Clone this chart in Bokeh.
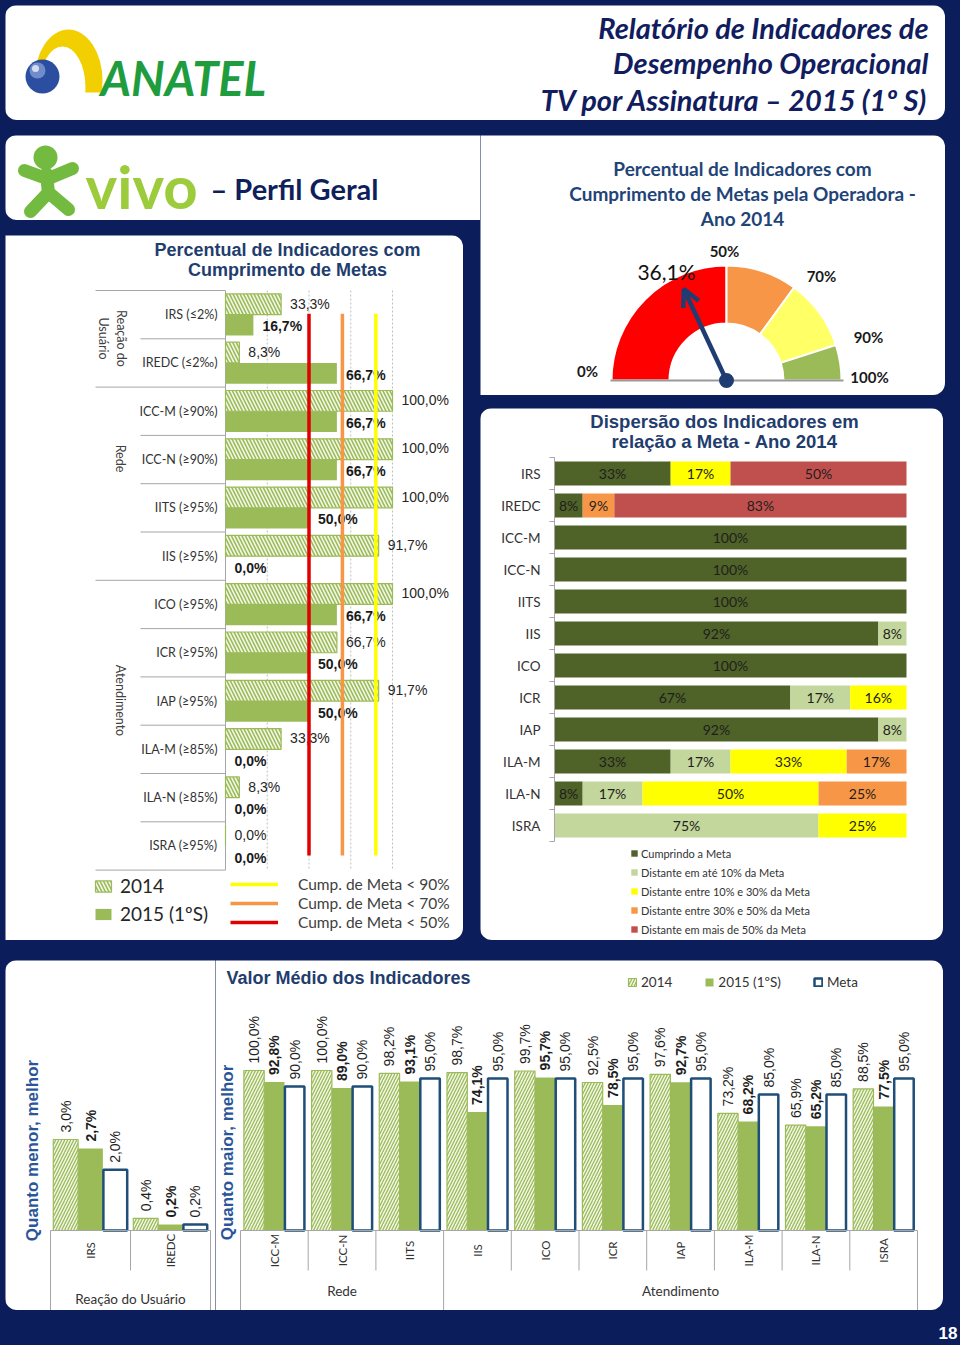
import math
import numpy as np
from bokeh.plotting import figure
from bokeh.models import (Range1d, Label, Legend, LegendItem, ColumnDataSource,
                          Arrow, OpenHead, Spacer, Column, Row)
from bokeh.core.properties import value
from bokeh.transform import dodge
from bokeh.embed import file_html
from bokeh.resources import INLINE

# ---------------------------------------------------------------- data
LC_CATS = ["IRS (≤2%)", "IREDC (≤2‰)", "ICC-M (≥90%)", "ICC-N (≥90%)", "IITS (≥95%)",
           "IIS (≥95%)", "ICO (≥95%)", "ICR (≥95%)", "IAP (≥95%)", "ILA-M (≥85%)",
           "ILA-N (≥85%)", "ISRA (≥95%)"]
LC_2014 = [33.3, 8.3, 100.0, 100.0, 100.0, 91.7, 100.0, 66.7, 91.7, 33.3, 8.3, 0.0]
LC_2015 = [16.7, 66.7, 66.7, 66.7, 50.0, 0.0, 66.7, 50.0, 50.0, 0.0, 0.0, 0.0]
LC_GROUP_SIZES = [2, 4, 6]
LC_GRID = [25, 50, 75, 100]
LC_THRESH = [90, 70, 50]
LC_THRESH_LABELS = ["Cump. de Meta < 90%", "Cump. de Meta < 70%", "Cump. de Meta < 50%"]

GAUGE_BOUNDS = [0, 50, 70, 90, 100]
GAUGE_VALUE = 36.1

D_CATS = ["IRS", "IREDC", "ICC-M", "ICC-N", "IITS", "IIS", "ICO", "ICR", "IAP",
          "ILA-M", "ILA-N", "ISRA"]
D_SERIES = ["Cumprindo a Meta", "Distante em até 10% da Meta",
            "Distante entre 10% e 30% da Meta", "Distante entre 30% e 50% da Meta",
            "Distante em mais de 50% da Meta"]
D_MEET = [33, 8, 100, 100, 100, 92, 100, 67, 92, 33, 8, 0]
D_10 = [0, 0, 0, 0, 0, 8, 0, 17, 8, 17, 17, 75]
D_30 = [17, 0, 0, 0, 0, 0, 0, 16, 0, 33, 50, 25]
D_50 = [0, 9, 0, 0, 0, 0, 0, 0, 0, 17, 25, 0]
D_OVER = [50, 83, 0, 0, 0, 0, 0, 0, 0, 0, 0, 0]

BL_CATS = ["IRS", "IREDC"]
BL_2014 = [3.0, 0.4]
BL_2015 = [2.7, 0.2]
BL_META = [2.0, 0.2]
BL_GROUPS = ["Reação do Usuário"]
BL_GROUP_SIZES = [2]

BR_CATS = ["ICC-M", "ICC-N", "IITS", "IIS", "ICO", "ICR", "IAP", "ILA-M", "ILA-N", "ISRA"]
BR_2014 = [100.0, 100.0, 98.2, 98.7, 99.7, 92.5, 97.6, 73.2, 65.9, 88.5]
BR_2015 = [92.8, 89.0, 93.1, 74.1, 95.7, 78.5, 92.7, 68.2, 65.2, 77.5]
BR_META = [90.0, 90.0, 95.0, 95.0, 95.0, 95.0, 95.0, 85.0, 85.0, 95.0]
BR_GROUPS = ["Rede", "Atendimento"]
BR_GROUP_SIZES = [3, 7]

# ---------------------------------------------------------------- styles
NAVY = "#0b1e5b"
GREEN = "#9bbb59"
HATCH_BG = "#f3f7e8"
META = "#1f4e79"
TITLE_C = "#1f3d6d"
DISP_COLORS = ["#4f6228", "#c3d69b", "#ffff00", "#f79646", "#c0504d"]
GAUGE_COLORS = ["#ff0000", "#f79646", "#ffff66", "#9bbb59"]
THRESH_COLORS = ["#ffff00", "#f79646", "#e00000"]
ARIAL = "Liberation Sans"


def pct1(v):
    return f"{v:.1f}%".replace(".", ",")


def panel(w, h, xr, yr, bg="white", radius=None):
    p = figure(width=w, height=h, x_range=xr, y_range=yr, title=None,
               output_backend="svg", toolbar_location=None,
               x_axis_location=None, y_axis_location=None,
               min_border=0, outline_line_color=None,
               background_fill_color=bg, border_fill_color=bg)
    p.xgrid.visible = False
    p.ygrid.visible = False
    if radius:
        p.styles = {"border-radius": radius, "overflow": "hidden"}
    return p


def lab(p, x, ytop, text, size, color="#262626", font="Lato", style="normal",
        align="left", baseline="middle", angle=0.0):
    p.add_layout(Label(x=x, y=p.height - ytop, x_units="screen", y_units="screen",
                       text=text, text_font=font, text_font_size=f"{size}px",
                       text_font_style=style, text_color=color, text_align=align,
                       text_baseline=baseline, angle=angle))


# ---------------------------------------------------------------- header
HW, HH = 940, 115
hd = panel(HW, HH, Range1d(0, HW), Range1d(HH, 0), radius="12px")
hd.ellipse(x=[63], y=[75], width=[68], height=[102], fill_color="#f2cf00", line_color=None)
hd.ellipse(x=[57], y=[82], width=[46], height=[82], fill_color="white", line_color=None)
hd.rect(x=[54], y=[101], width=[84], height=[28], fill_color="white", line_color=None)
hd.circle(x=[37], y=[71], radius=17, fill_color="#2b4ea0", line_color=None)
hd.circle(x=[32], y=[65], radius=8, fill_color="#9fb6e6", fill_alpha=0.6, line_color=None)
hd.circle(x=[30], y=[63], radius=3.5, fill_color="white", fill_alpha=0.7, line_color=None)
hd.text(x=[95], y=[72], text=["ANATEL"], text_font=value("Lato"), text_font_size="47px",
        text_font_style="bold italic", text_color="#1e9c3e", text_baseline="middle")
for ty, tt in zip([22, 57, 94], ["Relatório de Indicadores de", "Desempenho Operacional",
                                 "TV por Assinatura – 2015 (1º S)"]):
    lab(hd, 923, ty, tt, 29, color="#111d5e", style="bold italic", align="right")

# ---------------------------------------------------------------- vivo header
VW, VH = 475, 85
vv = panel(VW, VH, Range1d(0, VW), Range1d(VH, 0), radius="12px 0 0 12px")
vv.multi_line(xs=[[41, 19], [43, 67], [41, 43], [43, 25], [43, 63]],
              ys=[[43, 35], [43, 33], [38, 58], [57, 76], [57, 74]],
              line_color="#73ba40", line_width=13, line_cap="round")
vv.circle(x=[40], y=[22], radius=12, fill_color="#73ba40", line_color=None)
vv.text(x=[80], y=[50], text=["vivo"], text_font=value("Lato"), text_font_size="60px",
        text_font_style="bold", text_color="#9ccb3b", text_baseline="middle")
vv.text(x=[205], y=[53], text=["– Perfil Geral"], text_font=value("Lato"),
        text_font_size="29px", text_font_style="bold", text_color="#0f1f5c",
        text_baseline="middle")

# ---------------------------------------------------------------- left chart
LW, LH = 458, 705
lx0, lsx = 220, 1.67
ly0, lsy = 55, 48.3
n_lc = len(LC_CATS)
lc = panel(LW, LH, Range1d(-lx0 / lsx, (LW - lx0) / lsx),
           Range1d((LH - ly0) / lsy, -ly0 / lsy), radius="0 12px 12px 0")
lab(lc, 282, 14, "Percentual de Indicadores com", 18, color=TITLE_C, font=ARIAL, style="bold", align="center")
lab(lc, 282, 34, "Cumprimento de Metas", 18, color=TITLE_C, font=ARIAL, style="bold", align="center")

lc.segment(x0=LC_GRID, x1=LC_GRID, y0=0, y1=n_lc, line_color="#bfbfbf", line_dash="2 2", line_width=1)
bounds = list(np.cumsum([0] + LC_GROUP_SIZES))
sep_x0 = [(-130 / lsx if b in bounds else -85 / lsx) for b in range(n_lc + 1)]
lc.segment(x0=sep_x0, x1=0, y0=list(range(n_lc + 1)), y1=list(range(n_lc + 1)),
           line_color="#a6a6a6", line_width=1)
lc.segment(x0=[0], x1=[0], y0=[0], y1=[n_lc], line_color="#a6a6a6", line_width=1)

lsrc = ColumnDataSource(dict(y=np.arange(n_lc), v14=LC_2014, v15=LC_2015, cat=LC_CATS,
                             l14=[pct1(v) for v in LC_2014], l15=[pct1(v) for v in LC_2015]))
r14 = lc.hbar(y=dodge("y", 0.285, range=lc.y_range), left=0, right="v14", height=0.43,
              fill_color=HATCH_BG, line_color=GREEN, line_width=1.2,
              hatch_pattern="left_diagonal_line", hatch_color=GREEN, hatch_scale=7,
              hatch_weight=1.6, source=lsrc)
r15 = lc.hbar(y=dodge("y", 0.715, range=lc.y_range), left=0, right="v15", height=0.43,
              fill_color=GREEN, line_color=None, source=lsrc)
lc.text(x="v14", y=dodge("y", 0.27, range=lc.y_range), text="l14", x_offset=9,
        text_font=value(ARIAL), text_font_size="14px", text_color="#262626",
        text_baseline="middle", source=lsrc)
lc.text(x="v15", y=dodge("y", 0.74, range=lc.y_range), text="l15", x_offset=9,
        text_font=value(ARIAL), text_font_size="14px", text_font_style="bold",
        text_color="#1a1a1a", text_baseline="middle", source=lsrc)
lc.text(x=0, y=dodge("y", 0.5, range=lc.y_range), text="cat", x_offset=-8,
        text_font=value("Lato"), text_font_size="12.5px", text_color="#333333",
        text_align="right", text_baseline="middle", source=lsrc)

thr_r = []
for t, c in zip(LC_THRESH, THRESH_COLORS):
    thr_r.append(lc.segment(x0=[t], x1=[t], y0=[0.48], y1=[11.7], line_color=c, line_width=3.5))

# group labels (rotated clockwise)
lab(lc, 116, 103, "Reação do", 12.5, color="#404040", align="center", angle=-math.pi / 2)
lab(lc, 98, 103, "Usuário", 12.5, color="#404040", align="center", angle=-math.pi / 2)
lab(lc, 115, 223, "Rede", 12.5, color="#404040", align="center", angle=-math.pi / 2)
lab(lc, 115, 465, "Atendimento", 12.5, color="#404040", align="center", angle=-math.pi / 2)

leg1 = Legend(items=[LegendItem(label="2014", renderers=[r14]),
                     LegendItem(label="2015 (1ºS)", renderers=[r15])],
              location=(88, 15), glyph_width=20, glyph_height=14, label_standoff=7,
              spacing=5, padding=0, margin=0, label_height=20,
              label_text_font="Lato", label_text_font_size="19px", label_text_color="#262626",
              border_line_color=None, background_fill_alpha=0)
leg2 = Legend(items=[LegendItem(label=l, renderers=[r]) for l, r in zip(LC_THRESH_LABELS, thr_r)],
              location=(225, 9), glyph_width=48, glyph_height=6, label_standoff=20,
              spacing=1, padding=0, margin=0, label_height=18,
              label_text_font="Lato", label_text_font_size="15.5px", label_text_color="#404040",
              border_line_color=None, background_fill_alpha=0)
lc.add_layout(leg1)
lc.add_layout(leg2)

# ---------------------------------------------------------------- gauge
GW, GH = 465, 260
gg = panel(GW, GH, Range1d(-246, GW - 246), Range1d(-15, GH - 15), radius="0 12px 12px 0")
lab(gg, 262, 33, "Percentual de Indicadores com", 19, color="#1f4477", style="bold", align="center")
lab(gg, 262, 58, "Cumprimento de Metas pela Operadora -", 19, color="#1f4477", style="bold", align="center")
lab(gg, 262, 83, "Ano 2014", 19, color="#1f4477", style="bold", align="center")
g_start = [math.pi * (1 - b / 100) for b in GAUGE_BOUNDS[1:]]
g_end = [math.pi * (1 - a / 100) for a in GAUGE_BOUNDS[:-1]]
gg.annular_wedge(x=0, y=0, inner_radius=57, outer_radius=115, start_angle=g_start,
                 end_angle=g_end, fill_color=GAUGE_COLORS, line_color="white", line_width=2)
gg.segment(x0=[-116], x1=[117], y0=[0], y1=[0], line_color="#9a9a9a", line_width=2)
ga = math.pi * (1 - GAUGE_VALUE / 100)
gg.add_layout(Arrow(x_start=0, y_start=0, x_end=101 * math.cos(ga), y_end=101 * math.sin(ga),
                    line_color="#1f3d73", line_width=4.5,
                    end=OpenHead(size=17, line_color="#1f3d73", line_width=4.5)))
gg.circle(x=[0], y=[0], radius=7.5, fill_color="#1f3d73", line_color=None)
for (lx, ly), b in zip([(107, 235), (244, 115), (341, 140), (388, 201), (389, 241)], GAUGE_BOUNDS):
    lab(gg, lx, ly, f"{b}%", 15, color="#1a1a1a", style="bold", align="center")
lab(gg, 186, 136, pct1(GAUGE_VALUE), 21, color="#111111", align="center")

# ---------------------------------------------------------------- dispersion
DW, DH = 463, 532
dx0, dsx = 74, 3.52
dy0, dsy = 65, 32
n_d = len(D_CATS)
dp = panel(DW, DH, Range1d(-dx0 / dsx, (DW - dx0) / dsx),
           Range1d((DH - dy0) / dsy, -dy0 / dsy), radius="12px")
lab(dp, 244, 13, "Dispersão dos Indicadores em", 18.5, color=TITLE_C, font=ARIAL, style="bold", align="center")
lab(dp, 244, 33, "relação a Meta - Ano 2014", 18.5, color=TITLE_C, font=ARIAL, style="bold", align="center")
d_vals = [D_MEET, D_10, D_30, D_50, D_OVER]
keys = [f"s{k}" for k in range(len(d_vals))]
dsrc = ColumnDataSource(dict(y=np.arange(n_d), cat=D_CATS, **{k: v for k, v in zip(keys, d_vals)}))
d_r = dp.hbar_stack(keys, y="y", height=0.75, color=DISP_COLORS, line_color=None, source=dsrc)
lx_, ly_, lt_ = [], [], []
for i in range(n_d):
    left = 0
    for vals in d_vals:
        v = vals[i]
        if v > 0:
            lx_.append(left + v / 2)
            ly_.append(i)
            lt_.append(f"{v}%")
        left += v
dp.text(x=lx_, y=ly_, text=lt_, text_font=value("Lato"), text_font_size="14px",
        text_color="#1e1e1e", text_align="center", text_baseline="middle")
dp.text(x=0, y="y", text="cat", x_offset=-14, text_font=value("Lato"), text_font_size="13.5px",
        text_color="#333333", text_align="right", text_baseline="middle", source=dsrc)
dp.segment(x0=[0], x1=[0], y0=[-0.5], y1=[n_d - 0.5], line_color="#a6a6a6", line_width=1)
tb = [b - 0.5 for b in range(n_d + 1)]
dp.segment(x0=0, x1=-5 / dsx, y0=tb, y1=tb, line_color="#a6a6a6", line_width=1)
leg3 = Legend(items=[LegendItem(label=s, renderers=[r]) for s, r in zip(D_SERIES, d_r)],
              location=(150, 4), glyph_width=8, glyph_height=8, label_standoff=3,
              spacing=5, padding=0, margin=0, label_height=14,
              label_text_font="Lato", label_text_font_size="11px", label_text_color="#333333",
              border_line_color=None, background_fill_alpha=0)
dp.add_layout(leg3)

# ---------------------------------------------------------------- bottom chart


def bottom(p, cats, v14, v15, vm, bw, sy, group_names, group_sizes, grp_off):
    n = len(cats)
    src = ColumnDataSource(dict(x=np.arange(n) + 0.5, v14=v14, v15=v15, vm=vm, cat=cats,
                                l14=[pct1(v) for v in v14], l15=[pct1(v) for v in v15],
                                lm=[pct1(v) for v in vm]))
    ra = p.vbar(x=dodge("x", -bw, range=p.x_range), bottom=0, top="v14", width=bw,
                fill_color=HATCH_BG, line_color=GREEN, line_width=1.2,
                hatch_pattern="right_diagonal_line", hatch_color=GREEN, hatch_scale=6,
                hatch_weight=1.3, source=src)
    rb = p.vbar(x=dodge("x", 0, range=p.x_range), bottom=0, top="v15", width=bw,
                fill_color=GREEN, line_color=None, source=src)
    rc = p.vbar(x=dodge("x", bw, range=p.x_range), bottom=0, top="vm", width=bw * 0.96,
                fill_color="white", line_color=META, line_width=2.5, source=src)
    for key, col, off, st in (("l14", "v14", -bw, "normal"), ("l15", "v15", 0, "bold"),
                              ("lm", "vm", bw, "normal")):
        p.text(x=dodge("x", off, range=p.x_range), y=col, text=key, angle=math.pi / 2,
               y_offset=-7, text_font=value(ARIAL), text_font_size="14px",
               text_font_style=st, text_color="#1e1e1e", text_align="left",
               text_baseline="middle", source=src)
    # axis & separators
    p.segment(x0=[0], x1=[n], y0=[0], y1=[0], line_color="#a6a6a6", line_width=1)
    gb = list(np.cumsum([0] + group_sizes))
    ybot = p.y_range.start
    y1s = [(ybot if b in gb else -40 / sy) for b in range(n + 1)]
    p.segment(x0=list(range(n + 1)), x1=list(range(n + 1)), y0=0, y1=y1s,
              line_color="#a6a6a6", line_width=1)
    p.text(x="x", y=0, text="cat", y_offset=20, angle=math.pi / 2,
           text_font=value("Lato"), text_font_size="11.5px", text_color="#333333",
           text_align="center", text_baseline="middle", source=src)
    gcx = [(gb[k] + gb[k + 1]) / 2 for k in range(len(group_sizes))]
    p.text(x=gcx, y=0, text=group_names, y_offset=grp_off, text_font=value("Lato"),
           text_font_size="13.5px", text_color="#333333", text_align="center",
           text_baseline="middle")
    return ra, rb, rc


BLW, BH = 210, 350
bl_sy = 30.33
bl = panel(BLW, BH, Range1d(-45 / 80, (BLW - 45) / 80), Range1d(-80 / bl_sy, 270 / bl_sy),
           radius="12px 0 0 12px")
bottom(bl, BL_CATS, BL_2014, BL_2015, BL_META, 0.31, bl_sy, BL_GROUPS, BL_GROUP_SIZES, 68)
lab(bl, 27, 190, "Quanto menor, melhor", 17, color="#2a5699", font=ARIAL, style="bold",
    align="center", angle=math.pi / 2)

BRW = 728
br_sy = 1.6
br = panel(BRW, BH, Range1d(-25 / 67.7, (BRW - 25) / 67.7), Range1d(-80 / br_sy, 270 / br_sy),
           radius="0 12px 12px 0")
ra, rb, rc = bottom(br, BR_CATS, BR_2014, BR_2015, BR_META, 0.3, br_sy, BR_GROUPS, BR_GROUP_SIZES, 60)
lab(br, 12, 192, "Quanto maior, melhor", 17, color="#2a5699", font=ARIAL, style="bold",
    align="center", angle=math.pi / 2)
lab(br, 133, 17, "Valor Médio dos Indicadores", 18, color=TITLE_C, font=ARIAL, style="bold",
    align="center")
leg4 = Legend(items=[LegendItem(label="2014", renderers=[ra]),
                     LegendItem(label="2015 (1ºS)", renderers=[rb]),
                     LegendItem(label="Meta", renderers=[rc])],
              orientation="horizontal", location=(412, 320), glyph_width=10, glyph_height=10,
              label_standoff=4, spacing=32, padding=0, margin=0, label_height=14,
              label_text_font="Lato", label_text_font_size="13.5px", label_text_color="#333333",
              border_line_color=None, background_fill_alpha=0)
br.add_layout(leg4)

# ---------------------------------------------------------------- footer
ft = panel(955, 35, Range1d(0, 955), Range1d(35, 0), bg=NAVY)
lab(ft, 952, 22, "18", 17, color="white", font=ARIAL, style="bold", align="right")

# ---------------------------------------------------------------- layout
left_col = Column(children=[vv, Spacer(height=15), lc], spacing=0)
right_col = Column(children=[gg, Spacer(height=13), dp], spacing=0)
mid = Row(children=[left_col, right_col], spacing=0)
bot = Row(children=[bl, br], spacing=0)
inner = Column(children=[hd, Spacer(height=15), mid, Spacer(height=20), bot, ft], spacing=0)
root = Column(children=[Spacer(height=5), Row(children=[Spacer(width=5), inner], spacing=0)],
              spacing=0, styles={"background-color": NAVY})

open("out.html", "w").write(file_html(root, INLINE))
